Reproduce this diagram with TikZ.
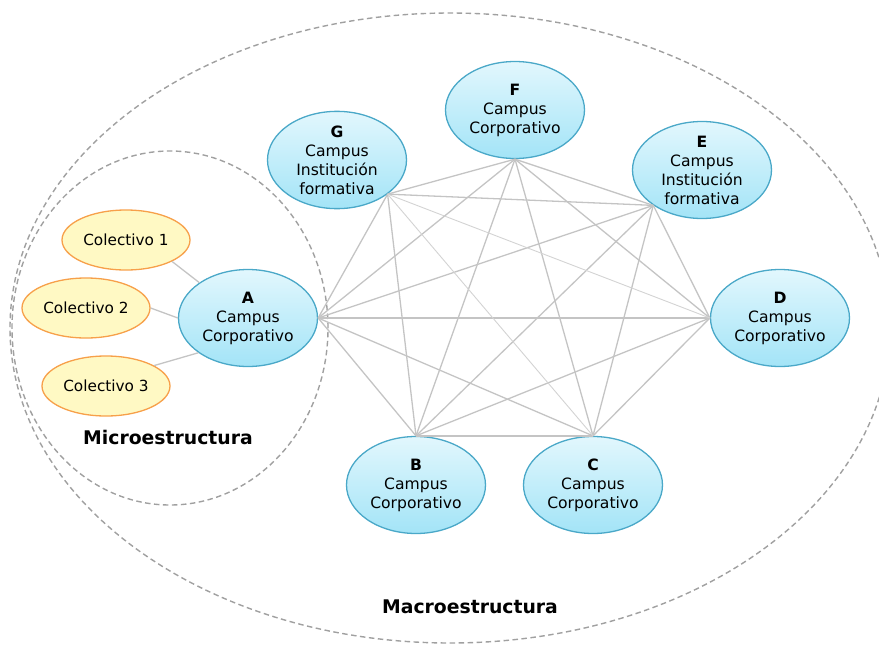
\documentclass[tikz,border=0pt]{standalone}
\usepackage{fontspec}
\setmainfont{DejaVu Sans}
\usetikzlibrary{shapes.geometric}
\definecolor{campusline}{HTML}{4AA8C8}
\definecolor{campustop}{HTML}{E2F7FD}
\definecolor{campusbot}{HTML}{A3E4F7}
\definecolor{grupoline}{HTML}{F7A04A}
\definecolor{grupofill}{HTML}{FFF9C4}
\definecolor{linkgray}{HTML}{C4C4C4}
\definecolor{dashgray}{HTML}{A0A0A0}
\begin{document}
\begin{tikzpicture}[x=1pt,y=-1pt,
  campus/.style={ellipse, draw=campusline, line width=1.3pt,
    top color=campustop, bottom color=campusbot,
    minimum width=139pt, minimum height=97pt, inner sep=0pt,
    align=center, font=\fontsize{15.6}{19}\selectfont},
  grupo/.style={ellipse, draw=grupoline, line width=1.3pt, fill=grupofill,
    minimum width=128pt, minimum height=60pt, inner sep=0pt,
    font=\fontsize{15.3}{19}\selectfont},
  enlace/.style={draw=linkgray, line width=1.3pt},
  enlacefino/.style={draw=linkgray!75, line width=0.9pt},
  limite/.style={draw=dashgray, line width=1.4pt, dash pattern=on 5.5pt off 3.5pt},
  titulo/.style={font=\fontsize{18.8}{22}\selectfont\bfseries}]

\useasboundingbox (0,0) rectangle (879,648);

% outer and inner boundaries
\draw[limite] (450,328) ellipse [x radius=440pt, y radius=315pt];
\draw[limite] (170,328) ellipse [x radius=158pt, y radius=177pt];

% campus nodes
\node[campus] (A) at (248,318) {\textbf{A}\\Campus\\Corporativo};
\node[campus] (B) at (416,485) {\textbf{B}\\Campus\\Corporativo};
\node[campus] (C) at (593,485) {\textbf{C}\\Campus\\Corporativo};
\node[campus] (D) at (780,318) {\textbf{D}\\Campus\\Corporativo};
\node[campus] (E) at (702,170) {\textbf{E}\\Campus\\Institución\\formativa};
\node[campus] (F) at (515,110) {\textbf{F}\\Campus\\Corporativo};
\node[campus] (G) at (337,160) {\textbf{G}\\Campus\\Institución\\formativa};

% collectives of campus A
\node[grupo] (c1) at (126,240) {Colectivo 1};
\node[grupo] (c2) at (86,308) {Colectivo 2};
\node[grupo] (c3) at (106,386) {Colectivo 3};

% meeting points of the network links
\coordinate (pA) at (A.east);
\coordinate (pB) at (B.north);
\coordinate (pC) at (C.north);
\coordinate (pD) at (D.west);
\coordinate (pE) at (E.216);
\coordinate (pF) at (F.south);
\coordinate (pG) at (G.-34);

% every campus linked to every other one
\foreach \u/\v in {A/B,A/C,A/D,A/E,A/F,A/G,
                   B/C,B/D,B/E,B/F,B/G,
                   C/D,C/E,C/F,
                   D/E,D/F,
                   E/F,E/G,
                   F/G}
  \draw[enlace] (p\u) -- (p\v);
\draw[enlacefino] (pG) -- (pC);
\draw[enlacefino] (pG) -- (pD);

% links of the collectives
\draw[enlace] (c1.-25) -- (A.144);
\draw[enlace] (c2.east) -- (A.west);
\draw[enlace] (c3.23) -- (A.215);

% titles
\node[titulo] (micro) at (168,437) {Microestructura};
\node[titulo] (macro) at (470,607) {Macroestructura};
\end{tikzpicture}
\end{document}
